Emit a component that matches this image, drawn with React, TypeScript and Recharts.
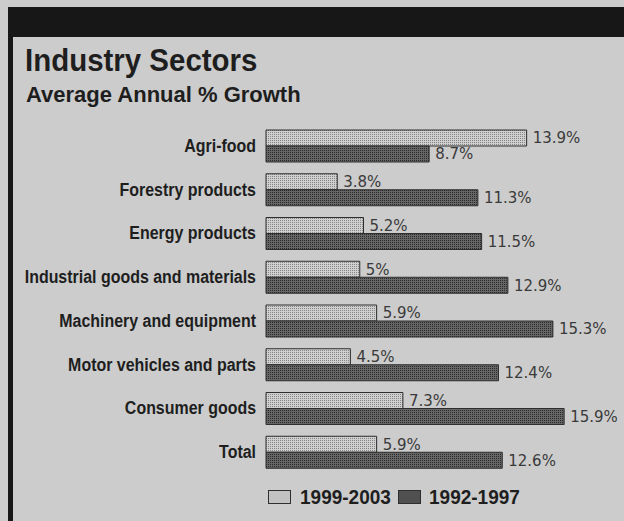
import type { FC } from "react";
import { BarChart, Bar, XAxis, YAxis, LabelList } from "recharts";

// === data ===
const sectors = [
  "Agri-food",
  "Forestry products",
  "Energy products",
  "Industrial goods and materials",
  "Machinery and equipment",
  "Motor vehicles and parts",
  "Consumer goods",
  "Total",
];
const growth19992003 = [13.9, 3.8, 5.2, 5, 5.9, 4.5, 7.3, 5.9];
const growth19921997 = [8.7, 11.3, 11.5, 12.9, 15.3, 12.4, 15.9, 12.6];
const seriesNames = ["1999-2003", "1992-1997"];

const chartData = sectors.map((name, i) => ({
  name,
  recent: growth19992003[i],
  earlier: growth19921997[i],
}));

// === style ===
const COLORS = {
  page: "#cccccc",
  band: "#171717",
  lightBase: "#cfcfcf",
  lightDot: "#858585",
  darkBase: "#666666",
  darkDot: "#2a2a2a",
  stroke: "#2e2e2e",
  text: "#1e1e1e",
  value: "#3a3a3a",
};
const SANS = '"Liberation Sans", Arial, sans-serif';

// condensed bold label, squeezed horizontally
const SectorTick = ({ x, y, payload }: any) => (
  <g transform={`translate(${x},${y})`}>
    <text
      transform="scale(0.84,1)"
      textAnchor="end"
      dy={6}
      fontFamily={SANS}
      fontWeight={700}
      fontSize={19}
      fill={COLORS.text}
    >
      {payload.value}
    </text>
  </g>
);

const swatch = (fill: string) => ({
  position: "absolute" as const,
  width: 23,
  height: 14,
  background: fill,
  border: `1px solid ${COLORS.stroke}`,
  boxSizing: "border-box" as const,
});

const legendText = {
  position: "absolute" as const,
  fontFamily: SANS,
  fontWeight: 700,
  fontSize: 20,
  lineHeight: "22px",
  color: COLORS.text,
  transform: "scaleX(0.95)",
  transformOrigin: "left center",
};

const App: FC = () => {
  return (
    <div
      style={{
        position: "absolute",
        left: 0,
        top: 0,
        width: 624,
        height: 521,
        background: COLORS.page,
        overflow: "hidden",
      }}
    >
      {/* frame: black top band + left rule */}
      <div style={{ position: "absolute", left: 8, top: 7, width: 616, height: 30, background: COLORS.band }} />
      <div style={{ position: "absolute", left: 8, top: 37, width: 5, height: 484, background: COLORS.band }} />

      {/* title */}
      <div
        style={{
          position: "absolute",
          left: 25,
          top: 43,
          fontFamily: SANS,
          fontWeight: 700,
          fontSize: 31,
          color: COLORS.text,
          lineHeight: "36px",
          transform: "scaleX(0.95)",
          transformOrigin: "left center",
          whiteSpace: "nowrap",
        }}
      >
        Industry Sectors
      </div>
      <div
        style={{
          position: "absolute",
          left: 26,
          top: 82,
          fontFamily: SANS,
          fontWeight: 700,
          fontSize: 22,
          color: COLORS.text,
          lineHeight: "26px",
          whiteSpace: "nowrap",
        }}
      >
        Average Annual % Growth
      </div>

      <div style={{ position: "absolute", left: 0, top: 100 }}>
        <BarChart
          width={624}
          height={421}
          data={chartData}
          layout="vertical"
          barGap={0}
          barSize={16}
          margin={{ top: 24, right: 58, left: 8, bottom: 47 }}
        >
          <defs>
            <pattern id="lightDots" width="2" height="2" patternUnits="userSpaceOnUse">
              <rect width="2" height="2" fill={COLORS.lightBase} />
              <rect width="1" height="1" fill={COLORS.lightDot} />
            </pattern>
            <pattern id="darkDots" width="2" height="2" patternUnits="userSpaceOnUse">
              <rect width="2" height="2" fill={COLORS.darkBase} />
              <rect width="1" height="1" fill={COLORS.darkDot} />
            </pattern>
          </defs>
          <XAxis type="number" domain={[0, 16]} hide />
          <YAxis
            type="category"
            dataKey="name"
            width={258}
            axisLine={false}
            tickLine={false}
            tickSize={0}
            tickMargin={10}
            interval={0}
            tick={<SectorTick />}
          />
          <Bar
            dataKey="recent"
            name={seriesNames[0]}
            fill="url(#lightDots)"
            stroke={COLORS.stroke}
            strokeWidth={1}
            isAnimationActive={false}
          >
            <LabelList
              dataKey="recent"
              position="right"
              offset={6}
              formatter={(v: number) => `${v}%`}
              style={{ fontFamily: '"DejaVu Sans", sans-serif', fontSize: 15, fill: COLORS.value }}
            />
          </Bar>
          <Bar
            dataKey="earlier"
            name={seriesNames[1]}
            fill="url(#darkDots)"
            stroke={COLORS.stroke}
            strokeWidth={1}
            isAnimationActive={false}
          >
            <LabelList
              dataKey="earlier"
              position="right"
              offset={6}
              formatter={(v: number) => `${v}%`}
              style={{ fontFamily: '"DejaVu Sans", sans-serif', fontSize: 15, fill: COLORS.value }}
            />
          </Bar>
        </BarChart>
      </div>

      {/* legend */}
      <div style={{ ...swatch("#c2c2c2"), left: 268, top: 490 }} />
      <div style={{ ...legendText, left: 300, top: 486 }}>{seriesNames[0]}</div>
      <div style={{ ...swatch("#505050"), left: 398, top: 490 }} />
      <div style={{ ...legendText, left: 429, top: 486 }}>{seriesNames[1]}</div>
    </div>
  );
};

export default App;
